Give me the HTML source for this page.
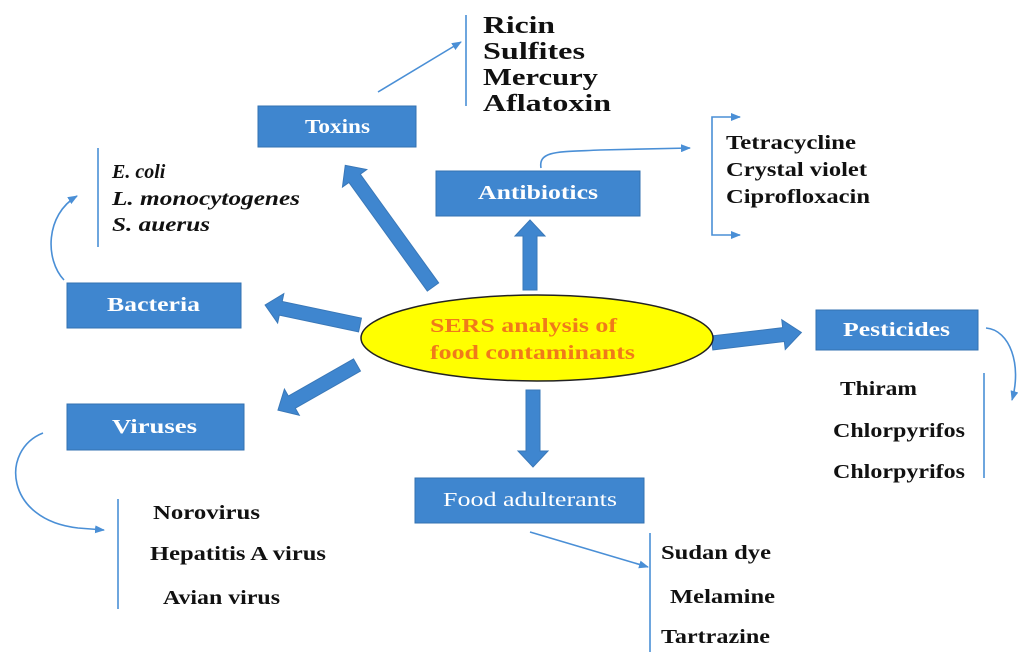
<!DOCTYPE html>
<html><head><meta charset="utf-8"><style>
body{margin:0;background:#fff;}
svg{display:block;font-family:"Liberation Serif",serif;}
</style></head><body>
<svg width="1024" height="657" viewBox="0 0 1024 657">
<defs>
<marker id="ah" markerWidth="10" markerHeight="8" refX="9" refY="4" orient="auto" markerUnits="userSpaceOnUse"><path d="M0,0 L10,4 L0,8 Z" fill="#4a8fd6"/></marker>
</defs>
<g fill="#3f86cf" stroke="#3a78b8" stroke-width="1">
<polygon transform="translate(433,287) rotate(-125.8)" points="0,-7 134,-7 134,-15 150,0 134,15 134,7 0,7"/>
<polygon transform="translate(530,290) rotate(-90)" points="0,-7 54,-7 54,-15 70,0 54,15 54,7 0,7"/>
<polygon transform="translate(360,325) rotate(191.9)" points="0,-7 81,-7 81,-15 97,0 81,15 81,7 0,7"/>
<polygon transform="translate(357,365) rotate(150.3)" points="0,-7 75,-7 75,-15 91,0 75,15 75,7 0,7"/>
<polygon transform="translate(712,343) rotate(-6.7)" points="0,-7 72,-7 72,-15 90,0 72,15 72,7 0,7"/>
<polygon transform="translate(533,390) rotate(90)" points="0,-7 61,-7 61,-15 77,0 61,15 61,7 0,7"/>
</g>
<ellipse cx="537" cy="338" rx="176" ry="43" fill="#ffff00" stroke="#222" stroke-width="1.5"/>
<g font-size="20" font-weight="bold" fill="#f07a1a">
<text x="430" y="332" textLength="187" lengthAdjust="spacingAndGlyphs">SERS analysis of</text>
<text x="430" y="359" textLength="205" lengthAdjust="spacingAndGlyphs">food contaminants</text>
</g>
<g fill="#3f86cf" stroke="#3371b0" stroke-width="1">
<rect x="258" y="106" width="158" height="41"/>
<rect x="436" y="171" width="204" height="45"/>
<rect x="67" y="283" width="174" height="45"/>
<rect x="67" y="404" width="177" height="46"/>
<rect x="816" y="310" width="162" height="40"/>
<rect x="415" y="478" width="229" height="45"/>
</g>
<g fill="#fff" font-size="20" font-weight="bold">
<text x="305" y="133" textLength="65" lengthAdjust="spacingAndGlyphs">Toxins</text>
<text x="478" y="199" textLength="120" lengthAdjust="spacingAndGlyphs">Antibiotics</text>
<text x="107" y="311" textLength="93" lengthAdjust="spacingAndGlyphs">Bacteria</text>
<text x="112" y="433" textLength="85" lengthAdjust="spacingAndGlyphs">Viruses</text>
<text x="843" y="336" textLength="107" lengthAdjust="spacingAndGlyphs">Pesticides</text>
<text x="443" y="506" font-weight="normal" textLength="174" lengthAdjust="spacingAndGlyphs">Food adulterants</text>
</g>
<g stroke="#4a8fd6" stroke-width="1.6" fill="none">
<line x1="378" y1="92" x2="461" y2="42" marker-end="url(#ah)"/>
<line x1="466" y1="15" x2="466" y2="106"/>
<path d="M541,168 C538,150 560,152 600,150 L690,148" marker-end="url(#ah)"/>
<path d="M722,117 L712,117 L712,235 L740,235" marker-end="url(#ah)"/>
<path d="M722,117 L740,117" marker-end="url(#ah)"/>
<line x1="98" y1="148" x2="98" y2="247"/>
<path d="M64,280 C45,260 45,215 77,196" marker-end="url(#ah)"/>
<path d="M43,433 C0,450 5,520 78,528 L104,530" marker-end="url(#ah)"/>
<line x1="118" y1="499" x2="118" y2="609"/>
<line x1="530" y1="532" x2="648" y2="567" marker-end="url(#ah)"/>
<line x1="650" y1="533" x2="650" y2="652"/>
<path d="M986,328 C1010,330 1022,365 1012,400" marker-end="url(#ah)"/>
<line x1="984" y1="373" x2="984" y2="478"/>
</g>
<g fill="#111" font-size="24" font-weight="bold">
<text x="483" y="33" textLength="72" lengthAdjust="spacingAndGlyphs">Ricin</text>
<text x="483" y="59" textLength="102" lengthAdjust="spacingAndGlyphs">Sulfites</text>
<text x="483" y="85" textLength="115" lengthAdjust="spacingAndGlyphs">Mercury</text>
<text x="483" y="111" textLength="128" lengthAdjust="spacingAndGlyphs">Aflatoxin</text>
</g>
<g fill="#111" font-size="20" font-weight="bold">
<text x="726" y="149" textLength="130" lengthAdjust="spacingAndGlyphs">Tetracycline</text>
<text x="726" y="176" textLength="141" lengthAdjust="spacingAndGlyphs">Crystal violet</text>
<text x="726" y="203" textLength="144" lengthAdjust="spacingAndGlyphs">Ciprofloxacin</text>
<text x="840" y="395" textLength="77" lengthAdjust="spacingAndGlyphs">Thiram</text>
<text x="833" y="437" textLength="132" lengthAdjust="spacingAndGlyphs">Chlorpyrifos</text>
<text x="833" y="478" textLength="132" lengthAdjust="spacingAndGlyphs">Chlorpyrifos</text>
<text x="153" y="519" textLength="107" lengthAdjust="spacingAndGlyphs">Norovirus</text>
<text x="150" y="560" textLength="176" lengthAdjust="spacingAndGlyphs">Hepatitis A virus</text>
<text x="163" y="604" textLength="117" lengthAdjust="spacingAndGlyphs">Avian virus</text>
<text x="661" y="559" textLength="110" lengthAdjust="spacingAndGlyphs">Sudan dye</text>
<text x="670" y="603" textLength="105" lengthAdjust="spacingAndGlyphs">Melamine</text>
<text x="661" y="643" textLength="109" lengthAdjust="spacingAndGlyphs">Tartrazine</text>
</g>
<g fill="#111" font-size="20" font-style="italic" font-weight="bold">
<text x="112" y="178">E. coli</text>
<text x="112" y="205" textLength="188" lengthAdjust="spacingAndGlyphs">L. monocytogenes</text>
<text x="112" y="231" textLength="98" lengthAdjust="spacingAndGlyphs">S. auerus</text>
</g>
</svg>
</body></html>
